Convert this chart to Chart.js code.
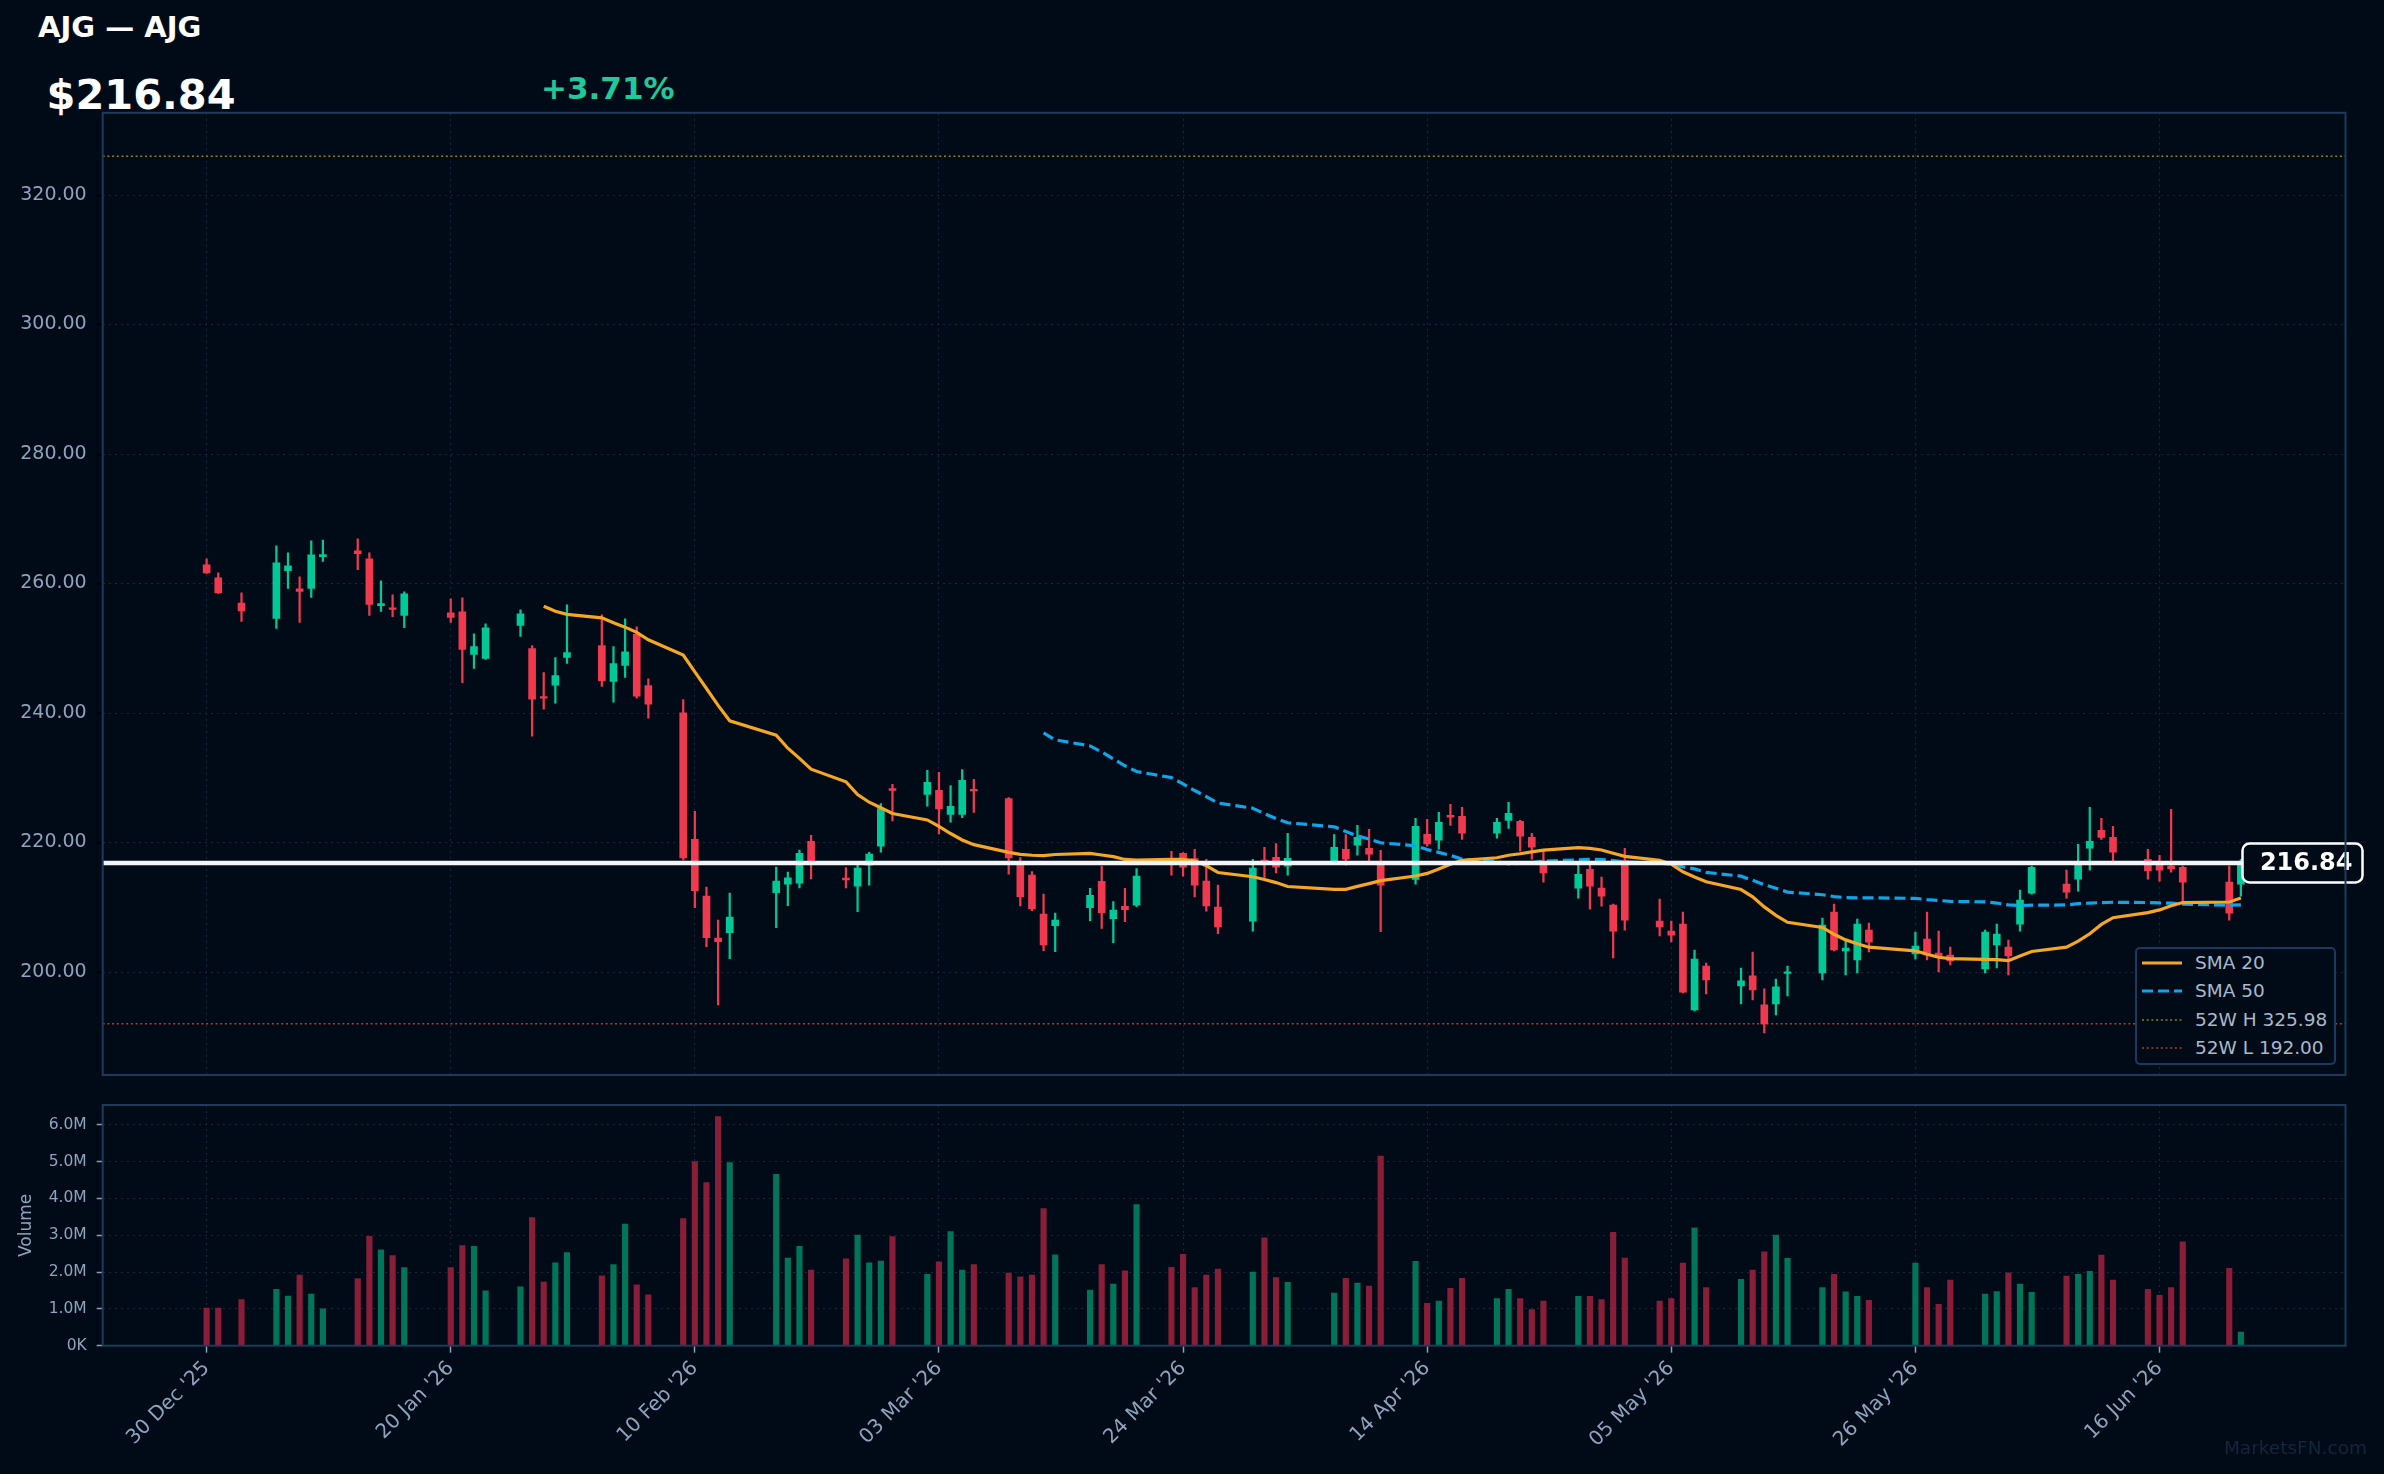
<!DOCTYPE html>
<html>
<head>
<meta charset="utf-8">
<title>AJG — AJG</title>
<script src="https://cdn.jsdelivr.net/npm/chart.js@4.4.1/dist/chart.umd.min.js"></script>
<style>
  html, body { margin: 0; padding: 0; background: #010b17; }
  body { width: 2384px; height: 1474px; position: relative; overflow: hidden; font-family: "DejaVu Sans", sans-serif; }
  .abs { position: absolute; white-space: nowrap; line-height: 1; }
  #title { left: 38px; top: 13px; font-size: 29px; font-weight: bold; color: #ffffff; }
  #last { left: 46.5px; top: 74px; font-size: 41.5px; font-weight: bold; color: #ffffff; }
  #chg { left: 541px; top: 73px; font-size: 31px; font-weight: bold; color: #1fc99b; }
  #priceBox { position: absolute; left: 0; top: 0; width: 2384px; height: 1090px; }
  #volBox { position: absolute; left: 0; top: 1090px; width: 2384px; height: 384px; }
  #legend { position: absolute; left: 2135px; top: 947px; width: 201px; height: 118px; box-sizing: border-box;
            border: 2px solid #1d3a5c; border-radius: 5px; background: #010b17; }
  #legend svg { position: absolute; left: 4.5px; }
  #legend span { position: absolute; left: 58px; font-size: 18.5px; line-height: 1; color: #a9b8cb; white-space: nowrap; }
  #mark { right: 17px; top: 1439px; font-size: 18.5px; color: #15263b; }
</style>
</head>
<body>
<div id="title" class="abs">AJG — AJG</div>
<div id="last" class="abs">$216.84</div>
<div id="chg" class="abs">+3.71%</div>
<div id="priceBox"><canvas id="priceChart"></canvas></div>
<div id="volBox"><canvas id="volChart"></canvas></div>
<div id="legend">
  <svg style="top:8.6px" width="40" height="10"><line x1="0" y1="5" x2="40" y2="5" stroke="#f5a623" stroke-width="3"/></svg>
  <span style="top:4.7px">SMA 20</span>
  <svg style="top:37px" width="40" height="10"><line x1="0" y1="5" x2="40" y2="5" stroke="#0ea5e9" stroke-width="3" stroke-dasharray="11 5"/></svg>
  <span style="top:33.1px">SMA 50</span>
  <svg style="top:65.6px" width="40" height="10"><line x1="0" y1="5" x2="40" y2="5" stroke="#8f8313" stroke-width="1.5" stroke-dasharray="2 2.7"/></svg>
  <span style="top:61.7px">52W H 325.98</span>
  <svg style="top:93.6px" width="40" height="10"><line x1="0" y1="5" x2="40" y2="5" stroke="#a8432a" stroke-width="1.5" stroke-dasharray="2 2.7"/></svg>
  <span style="top:89.7px">52W L 192.00</span>
</div>
<div id="mark" class="abs">MarketsFN.com</div>
<script>
// daily bars, AJG
const dates = [
  '2025-12-30','2025-12-31','2026-01-02','2026-01-05','2026-01-06','2026-01-07','2026-01-08','2026-01-09',
  '2026-01-12','2026-01-13','2026-01-14','2026-01-15','2026-01-16','2026-01-20','2026-01-21','2026-01-22',
  '2026-01-23','2026-01-26','2026-01-27','2026-01-28','2026-01-29','2026-01-30','2026-02-02','2026-02-03',
  '2026-02-04','2026-02-05','2026-02-06','2026-02-09','2026-02-10','2026-02-11','2026-02-12','2026-02-13',
  '2026-02-17','2026-02-18','2026-02-19','2026-02-20','2026-02-23','2026-02-24','2026-02-25','2026-02-26',
  '2026-02-27','2026-03-02','2026-03-03','2026-03-04','2026-03-05','2026-03-06','2026-03-09','2026-03-10',
  '2026-03-11','2026-03-12','2026-03-13','2026-03-16','2026-03-17','2026-03-18','2026-03-19','2026-03-20',
  '2026-03-23','2026-03-24','2026-03-25','2026-03-26','2026-03-27','2026-03-30','2026-03-31','2026-04-01',
  '2026-04-02','2026-04-06','2026-04-07','2026-04-08','2026-04-09','2026-04-10','2026-04-13','2026-04-14',
  '2026-04-15','2026-04-16','2026-04-17','2026-04-20','2026-04-21','2026-04-22','2026-04-23','2026-04-24',
  '2026-04-27','2026-04-28','2026-04-29','2026-04-30','2026-05-01','2026-05-04','2026-05-05','2026-05-06',
  '2026-05-07','2026-05-08','2026-05-11','2026-05-12','2026-05-13','2026-05-14','2026-05-15','2026-05-18',
  '2026-05-19','2026-05-20','2026-05-21','2026-05-22','2026-05-26','2026-05-27','2026-05-28','2026-05-29',
  '2026-06-01','2026-06-02','2026-06-03','2026-06-04','2026-06-05','2026-06-08','2026-06-09','2026-06-10',
  '2026-06-11','2026-06-12','2026-06-15','2026-06-16','2026-06-17','2026-06-18','2026-06-22','2026-06-23'
];
const open = [
  262.9, 260.88, 257.0, 254.61, 262.0, 259.18, 259.23, 264.16,
  265.04, 263.8, 256.6, 256.1, 255.07, 255.48, 255.64, 249.06,
  248.45, 253.53, 249.94, 242.4, 244.29, 248.6, 250.4, 244.9,
  247.37, 252.15, 244.24, 240.03, 220.51, 211.73, 205.26, 206.08,
  212.24, 213.58, 213.73, 220.2, 214.5, 213.27, 216.5, 219.43,
  228.32, 227.44, 228.06, 224.36, 224.36, 228.22, 226.78, 217.0,
  214.96, 208.96, 207.16, 209.93, 214.0, 208.24, 210.14, 210.34,
  217.3, 218.35, 217.53, 214.03, 210.03, 207.87, 217.3, 217.73,
  216.35, 216.8, 218.96, 219.58, 219.12, 217.0, 214.29, 221.27,
  220.35, 224.2, 224.05, 221.43, 223.43, 223.28, 220.81, 217.0,
  212.96, 215.88, 212.96, 210.34, 217.2, 207.87, 206.33, 207.41,
  194.16, 200.94, 197.85, 199.4, 194.93, 195.08, 199.8, 199.86,
  209.26, 203.25, 201.86, 206.48, 202.79, 205.1, 202.94, 202.63,
  200.48, 204.17, 203.86, 207.41, 212.18, 213.57, 214.34, 219.12,
  221.89, 220.81, 217.42, 216.96, 216.35, 216.19, 213.88, 213.57
];
const high = [
  263.8, 261.65, 258.57, 265.81, 264.73, 261.03, 266.58, 266.73,
  266.89, 264.73, 260.42, 258.26, 258.72, 257.64, 257.8, 252.25,
  253.79, 255.95, 250.4, 246.24, 248.55, 256.72, 255.17, 250.25,
  254.56, 253.33, 245.3, 242.08, 224.83, 213.12, 208.03, 212.19,
  216.2, 215.43, 218.82, 221.13, 216.13, 216.5, 218.5, 226.0,
  228.99, 231.14, 230.83, 228.78, 231.25, 229.76, 226.93, 217.68,
  215.53, 212.04, 209.11, 212.91, 216.35, 210.9, 212.91, 215.99,
  218.65, 218.45, 218.96, 217.4, 213.42, 217.4, 219.27, 219.84,
  221.43, 221.22, 221.22, 222.66, 222.05, 218.81, 223.74, 223.59,
  224.67, 225.9, 225.44, 223.74, 226.21, 223.43, 221.43, 218.81,
  216.5, 217.0, 214.65, 210.49, 219.12, 211.26, 207.87, 209.26,
  203.4, 201.4, 200.63, 203.09, 197.39, 198.93, 200.94, 208.33,
  210.49, 204.79, 208.18, 207.56, 206.18, 209.26, 206.33, 203.86,
  206.48, 207.41, 204.94, 212.65, 216.35, 215.73, 219.73, 225.44,
  223.74, 222.51, 218.96, 218.04, 225.13, 216.35, 216.35, 217.4
];
const low = [
  261.55, 258.46, 254.15, 253.07, 259.23, 254.0, 257.85, 263.4,
  262.16, 255.07, 255.69, 254.87, 253.2, 254.0, 244.7, 246.91,
  248.3, 251.84, 236.43, 240.6, 241.51, 247.68, 244.13, 241.67,
  245.52, 242.28, 239.2, 217.3, 209.93, 203.92, 194.93, 202.07,
  206.85, 210.24, 213.01, 214.4, 213.01, 209.31, 213.42, 218.5,
  223.34, 225.6, 221.33, 223.13, 223.85, 224.67, 215.12, 210.2,
  209.47, 203.3, 203.15, 207.93, 206.75, 204.54, 207.78, 210.08,
  214.96, 214.8, 211.62, 209.41, 205.92, 206.33, 214.6, 215.32,
  214.96, 216.6, 216.5, 218.04, 217.17, 206.23, 213.57, 219.43,
  218.96, 222.66, 220.5, 220.66, 222.2, 218.66, 217.42, 213.88,
  211.41, 209.72, 210.18, 202.17, 206.48, 205.56, 204.64, 196.78,
  194.0, 196.62, 195.08, 195.7, 190.6, 193.39, 196.32, 198.78,
  203.25, 199.55, 199.86, 203.09, 202.02, 201.86, 200.01, 201.09,
  199.86, 200.63, 199.55, 206.33, 212.03, 211.41, 212.5, 215.73,
  220.5, 217.12, 214.34, 214.03, 215.42, 210.95, 208.03, 211.72
];
const close = [
  261.65, 258.57, 255.79, 263.19, 262.73, 258.77, 264.42, 264.47,
  264.63, 256.77, 256.92, 256.0, 258.4, 254.76, 249.83, 250.25,
  253.17, 255.33, 242.13, 242.3, 245.78, 249.32, 245.0, 247.63,
  249.47, 242.59, 241.36, 217.63, 212.55, 205.31, 204.69, 208.49,
  214.04, 214.55, 218.35, 217.0, 214.24, 216.04, 218.2, 225.24,
  228.06, 229.29, 225.18, 225.6, 229.6, 227.96, 217.63, 211.63,
  209.73, 204.18, 208.03, 211.83, 209.16, 209.57, 209.62, 214.81,
  216.9, 216.19, 213.42, 210.23, 206.95, 216.04, 216.6, 216.19,
  217.58, 219.27, 217.42, 220.81, 218.2, 213.42, 222.51, 219.79,
  223.12, 223.9, 221.43, 223.12, 224.51, 220.97, 219.27, 215.32,
  215.11, 213.26, 211.72, 206.33, 208.0, 206.95, 205.71, 196.9,
  202.02, 198.78, 198.63, 197.24, 192.0, 197.7, 200.01, 207.26,
  203.4, 203.71, 207.41, 204.63, 204.02, 202.63, 202.48, 201.71,
  206.18, 205.87, 202.48, 211.11, 216.19, 212.34, 216.96, 220.2,
  220.81, 218.5, 215.63, 215.73, 215.94, 213.88, 209.08, 216.84
];
// volume in millions of shares
const volume = [
  1.02, 1.02, 1.25, 1.53, 1.35, 1.92, 1.40, 1.00,
  1.82, 2.97, 2.60, 2.45, 2.12, 2.12, 2.72, 2.70,
  1.49, 1.60, 3.48, 1.73, 2.25, 2.53, 1.90, 2.20,
  3.30, 1.65, 1.38, 3.45, 5.00, 4.43, 6.22, 4.97,
  4.65, 2.38, 2.70, 2.05, 2.36, 3.00, 2.25, 2.30,
  2.96, 1.94, 2.28, 3.10, 2.05, 2.20, 1.97, 1.87,
  1.92, 3.72, 2.47, 1.51, 2.20, 1.67, 2.03, 3.83,
  2.13, 2.48, 1.58, 1.92, 2.08, 2.00, 2.93, 1.85,
  1.72, 1.43, 1.83, 1.70, 1.62, 5.15, 2.29, 1.15,
  1.21, 1.56, 1.83, 1.28, 1.53, 1.28, 0.98, 1.21,
  1.34, 1.34, 1.25, 3.08, 2.38, 1.21, 1.28, 2.24,
  3.20, 1.58, 1.80, 2.05, 2.55, 3.00, 2.37, 1.58,
  1.94, 1.46, 1.34, 1.23, 2.24, 1.58, 1.12, 1.78,
  1.40, 1.47, 1.98, 1.67, 1.45, 1.89, 1.94, 2.02,
  2.46, 1.78, 1.53, 1.37, 1.58, 2.82, 2.10, 0.37
];
const tickDates = ['2025-12-30','2026-01-20','2026-02-10','2026-03-03','2026-03-24','2026-04-14','2026-05-05','2026-05-26','2026-06-16'];
const tickLabels = ["30 Dec '25", "20 Jan '26", "10 Feb '26", "03 Mar '26", "24 Mar '26", "14 Apr '26", "05 May '26", "26 May '26", "16 Jun '26"];
const priceTicks = [200, 220, 240, 260, 280, 300, 320];
const volumeTicks = [0, 1, 2, 3, 4, 5, 6];
const high52 = 325.98;
const low52 = 192.00;

const UP = '#00c896', DOWN = '#f0384f';
const UP_VOL = '#00755a', DOWN_VOL = '#8a1d37';
const GRID = '#18283b', AXIS_TXT = '#8ea3bd', FRAME = '#1d3a5c', BG = '#010b17';

Chart.defaults.font.family = '"DejaVu Sans", sans-serif';
Chart.defaults.animation = false;

const day0 = Date.parse(dates[0]);
const toDay = s => (Date.parse(s) - day0) / 864e5;
const days = dates.map(toDay);
const tickDays = tickDates.map(toDay);
// x margins in days either side of the first / last bar
const xMin = days[0] - 8.94;
const xMax = days[days.length - 1] + 9.0;
const isUp = close.map((c, i) => c >= open[i]);
const lastPrice = close[close.length - 1];

function sma(src, n) {
  return src.map((_, i) => {
    if (i < n - 1) return null;
    let s = 0;
    for (let k = i - n + 1; k <= i; k++) s += src[k];
    return s / n;
  });
}
const sma20 = sma(close, 20);
const sma50 = sma(close, 50);

// fixed axis boxes so both panels share the same plot edges
const fixY = s => { s.width = 102.7; s.paddingTop = 0; s.paddingBottom = 0; };
const fixX = h => s => { s.height = h; s.paddingLeft = 0; s.paddingRight = 0; };

const frame = {
  id: 'frame',
  afterDraw(chart) {
    const {ctx, chartArea: a} = chart;
    ctx.save();
    ctx.strokeStyle = FRAME;
    ctx.lineWidth = 2;
    ctx.strokeRect(a.left, a.top, a.right - a.left, a.bottom - a.top);
    ctx.restore();
  }
};

function hLine(chart, value, color, width, dash) {
  const {ctx, chartArea: a, scales: {y}} = chart;
  const py = y.getPixelForValue(value);
  ctx.save();
  ctx.strokeStyle = color;
  ctx.lineWidth = width;
  ctx.setLineDash(dash);
  ctx.beginPath();
  ctx.moveTo(a.left, py);
  ctx.lineTo(a.right, py);
  ctx.stroke();
  ctx.restore();
  return py;
}

const priceLines = {
  id: 'priceLines',
  beforeDatasetsDraw(chart) {
    hLine(chart, high52, '#8f8313', 1.5, [2, 2.7]);
    hLine(chart, low52, '#a8432a', 1.5, [2, 2.7]);
  },
  afterDatasetsDraw(chart) {
    hLine(chart, lastPrice, '#f2f4f7', 4.5, []);
  },
  afterDraw(chart) {
    const {ctx, chartArea: a, scales: {y}} = chart;
    const py = y.getPixelForValue(lastPrice);
    const x0 = a.right - 103, w = 120, h = 39;
    ctx.save();
    ctx.beginPath();
    ctx.roundRect(x0, py - h / 2, w, h, 7);
    ctx.fillStyle = BG;
    ctx.fill();
    ctx.lineWidth = 2.5;
    ctx.strokeStyle = '#ffffff';
    ctx.stroke();
    ctx.fillStyle = '#ffffff';
    ctx.font = 'bold 24px "DejaVu Sans", sans-serif';
    ctx.textAlign = 'right';
    ctx.textBaseline = 'middle';
    ctx.fillText(lastPrice.toFixed(2), a.right + 7, py + 1);
    ctx.restore();
  }
};

new Chart(document.getElementById('priceChart'), {
  type: 'bar',
  data: {
    datasets: [
      {
        label: 'wick', order: 4, grouped: false,
        data: days.map((x, i) => ({x, y: [low[i], high[i]]})),
        backgroundColor: isUp.map(u => u ? UP : DOWN),
        barThickness: 1.6
      },
      {
        label: 'body', order: 3, grouped: false,
        data: days.map((x, i) => ({x, y: [open[i], close[i]]})),
        backgroundColor: isUp.map(u => u ? UP : DOWN),
        barThickness: 7, minBarLength: 1.5
      },
      {
        type: 'line', label: 'SMA 50', order: 2,
        data: days.map((x, i) => ({x, y: sma50[i]})),
        borderColor: '#0ea5e9', borderWidth: 3.2, borderDash: [11, 5],
        pointRadius: 0, tension: 0
      },
      {
        type: 'line', label: 'SMA 20', order: 1,
        data: days.map((x, i) => ({x, y: sma20[i]})),
        borderColor: '#f5a623', borderWidth: 3.2,
        pointRadius: 0, tension: 0
      }
    ]
  },
  options: {
    responsive: true,
    maintainAspectRatio: false,
    devicePixelRatio: 1,
    layout: { padding: { left: 0, right: 38.5, top: 112.8, bottom: 15 } },
    plugins: { legend: { display: false }, tooltip: { enabled: false } },
    scales: {
      x: {
        type: 'linear', min: xMin, max: xMax, offset: false,
        grid: { offset: false, color: GRID, drawTicks: false },
        border: { display: false, dash: [2, 4] },
        ticks: { display: false },
        afterBuildTicks: s => { s.ticks = tickDays.map(v => ({value: v})); },
        afterFit: fixX(0)
      },
      y: {
        min: 184.1, max: 332.7, beginAtZero: false,
        grid: { color: GRID, tickColor: '#000000', tickLength: 6, tickWidth: 2 },
        border: { display: false, dash: [2, 4] },
        ticks: { color: AXIS_TXT, font: { size: 19 }, padding: 10, callback: v => v.toFixed(2) },
        afterBuildTicks: s => { s.ticks = priceTicks.map(v => ({value: v})); },
        afterFit: fixY
      }
    }
  },
  plugins: [priceLines, frame]
});

new Chart(document.getElementById('volChart'), {
  type: 'bar',
  data: {
    datasets: [{
      label: 'Volume', grouped: false,
      data: days.map((x, i) => ({x, y: volume[i]})),
      backgroundColor: isUp.map(u => u ? UP_VOL : DOWN_VOL),
      barThickness: 5.5
    }]
  },
  options: {
    responsive: true,
    maintainAspectRatio: false,
    devicePixelRatio: 1,
    layout: { padding: { left: 0, right: 38.5, top: 15, bottom: 0 } },
    plugins: { legend: { display: false }, tooltip: { enabled: false } },
    scales: {
      x: {
        type: 'linear', min: xMin, max: xMax, offset: false,
        grid: { offset: false, color: GRID, tickColor: '#8a9fb8', tickLength: 7, tickWidth: 1.5 },
        border: { display: false, dash: [2, 4] },
        ticks: {
          color: AXIS_TXT, font: { size: 20 }, maxRotation: 45, minRotation: 45,
          autoSkip: false, padding: 4, callback: (v, i) => tickLabels[i]
        },
        afterBuildTicks: s => { s.ticks = tickDays.map(v => ({value: v})); },
        afterFit: fixX(128.3)
      },
      y: {
        min: 0, max: 6.535,
        grid: { color: GRID, tickColor: '#8a9fb8', tickLength: 6, tickWidth: 1.5 },
        border: { display: false, dash: [2, 4] },
        ticks: { color: AXIS_TXT, font: { size: 15.5 }, padding: 10, callback: v => v === 0 ? '0K' : v.toFixed(1) + 'M' },
        title: { display: true, text: 'Volume', color: AXIS_TXT, font: { size: 17 }, padding: { top: 16.5, bottom: 0 } },
        afterBuildTicks: s => { s.ticks = volumeTicks.map(v => ({value: v})); },
        afterFit: fixY
      }
    }
  },
  plugins: [frame]
});
</script>
</body>
</html>
